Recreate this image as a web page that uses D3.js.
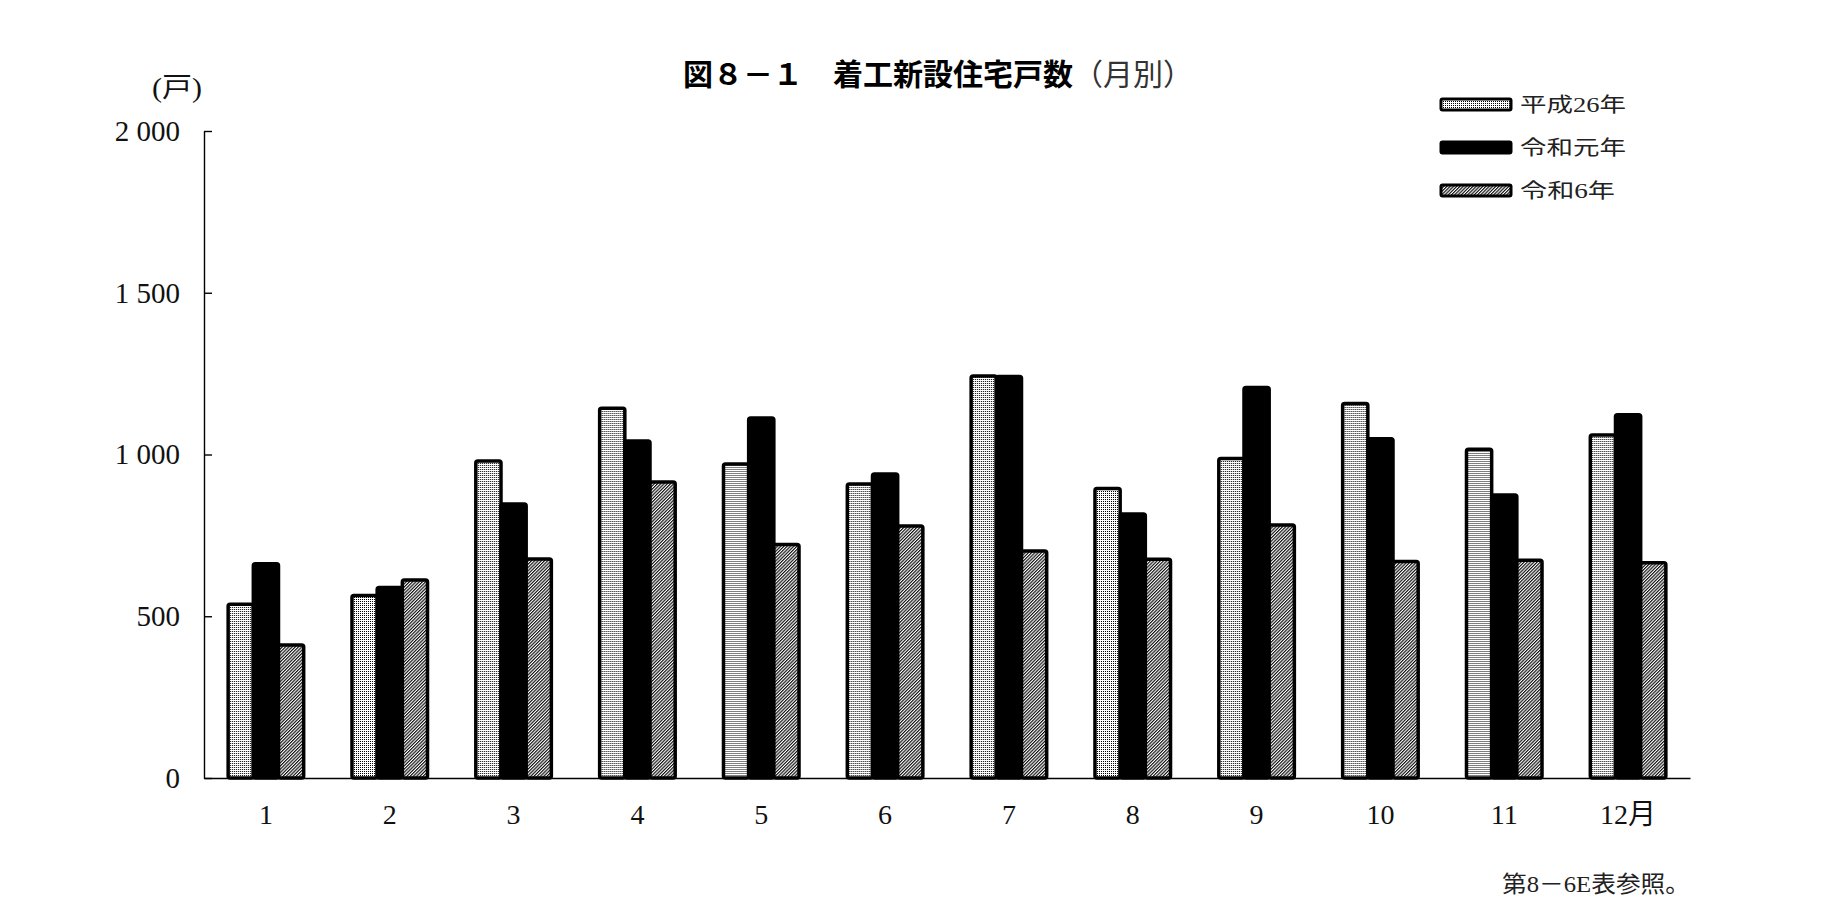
<!DOCTYPE html>
<html>
<head>
<meta charset="utf-8">
<script src="https://cdn.jsdelivr.net/npm/d3@7"></script>
<style>
  body { margin: 0; background: #fff; }
  .serif { font-family: "Liberation Serif", "DejaVu Serif", "Noto Sans CJK JP", serif; }
  .gothic { font-family: "Noto Sans CJK JP", "Noto Sans", sans-serif; }
</style>
</head>
<body>
<div id="chart"></div>
<script>
// chart values
const months = ["1", "2", "3", "4", "5", "6", "7", "8", "9", "10", "11", "12月"];
const seriesNames = ["平成26年", "令和元年", "令和6年"];
const heisei26 = [537, 564, 980, 1143, 971, 909, 1243, 895, 988, 1158, 1016, 1060];
const reiwa1 = [662, 589, 847, 1042, 1113, 940, 1241, 816, 1207, 1049, 875, 1123];
const reiwa6 = [411, 612, 677, 915, 722, 779, 702, 676, 782, 669, 673, 665];
const yTicks = [0, 500, 1000, 1500, 2000];

const size = { width: 1841, height: 922 };
const margin = { top: 131, right: 151, bottom: 144, left: 204 };
const width = size.width - margin.left - margin.right;
const height = size.height - margin.top - margin.bottom;

const svg = d3.select("#chart")
    .append("svg")
    .attr("width", size.width)
    .attr("height", size.height);

// fills: stipple, solid, hatch
const defs = svg.append("defs");
const dots = defs.append("pattern")
    .attr("id", "dots")
    .attr("patternUnits", "userSpaceOnUse")
    .attr("width", 2).attr("height", 2);
dots.append("rect").attr("width", 2).attr("height", 2).attr("fill", "#fff");
dots.append("rect").attr("width", 1).attr("height", 1).attr("fill", "#000");

const hatch = defs.append("pattern")
    .attr("id", "hatch")
    .attr("patternUnits", "userSpaceOnUse")
    .attr("width", 2.3).attr("height", 10)
    .attr("patternTransform", "rotate(45)");
hatch.append("rect").attr("width", 2.3).attr("height", 10).attr("fill", "#fff");
hatch.append("line")
    .attr("x1", 0.6).attr("x2", 0.6)
    .attr("y1", 0).attr("y2", 10)
    .attr("stroke", "#000")
    .attr("stroke-width", 1.1);

const fills = ["url(#dots)", "#000", "url(#hatch)"];

const g = svg.append("g")
    .attr("transform", `translate(${margin.left}, ${margin.top})`);

const x0 = d3.scaleBand()
    .domain(months)
    .range([0, width])
    .paddingInner(0.39)
    .paddingOuter(0.195);

const x1 = d3.scaleBand()
    .domain(seriesNames)
    .range([0, x0.bandwidth()]);

const y = d3.scaleLinear()
    .domain([0, 2000])
    .range([height, 0]);

// y axis, ticks pointing inward
const yAxis = d3.axisLeft(y)
    .tickValues(yTicks)
    .tickSizeInner(-8)
    .tickSizeOuter(0)
    .tickPadding(24)
    .tickFormat(d => d >= 1000 ? d3.format(",")(d).replace(",", " ") : d);

g.append("g")
    .attr("class", "y-axis serif")
    .call(yAxis)
    .call(a => a.selectAll("path, line").attr("stroke", "#000").attr("stroke-width", 1.4))
    .call(a => a.selectAll("text")
        .attr("font-size", 29)
        .attr("fill", "#111")
        .attr("font-family", null));

// x axis: only the base line and month labels
const xAxis = d3.axisBottom(x0)
    .tickSize(0)
    .tickPadding(26);

g.append("g")
    .attr("class", "x-axis serif")
    .attr("transform", `translate(0, ${height})`)
    .call(xAxis)
    .call(a => a.select(".domain").attr("stroke", "#000").attr("stroke-width", 1.4))
    .call(a => a.selectAll("text")
        .attr("font-size", 28)
        .attr("fill", "#111")
        .attr("font-family", null));

// bars
const rows = months.map((m, i) => ({
    month: m,
    values: [heisei26[i], reiwa1[i], reiwa6[i]]
}));

const groups = g.selectAll(".month")
    .data(rows)
    .join("g")
    .attr("class", "month")
    .attr("transform", d => `translate(${x0(d.month)}, 0)`);

groups.selectAll("rect")
    .data(d => d.values.map((v, j) => ({ series: seriesNames[j], value: v, j })))
    .join("rect")
    .attr("x", d => x1(d.series))
    .attr("y", d => y(d.value))
    .attr("width", x1.bandwidth())
    .attr("height", d => y(0) - y(d.value))
    .attr("rx", 2)
    .attr("fill", d => fills[d.j])
    .attr("stroke", "#000")
    .attr("stroke-width", 3.5);

// legend
const legend = svg.selectAll(".legend")
    .data(seriesNames)
    .join("g")
    .attr("class", "legend")
    .attr("transform", (d, i) => `translate(1441, ${99 + i * 43})`);

legend.append("rect")
    .attr("width", 70)
    .attr("height", 11)
    .attr("rx", 1.5)
    .attr("fill", (d, i) => fills[i])
    .attr("stroke", "#000")
    .attr("stroke-width", 3);

legend.append("text")
    .attr("class", "serif")
    .attr("x", 79)
    .attr("y", 13)
    .attr("font-size", 20)
    .attr("fill", "#222")
    .attr("textLength", (d, i) => i === 2 ? 95 : 106)
    .attr("lengthAdjust", "spacingAndGlyphs")
    .text(d => d);

// title
const title = svg.append("text")
    .attr("class", "gothic")
    .attr("x", 683)
    .attr("y", 85)
    .attr("font-size", 30)
    .attr("fill", "#000");
title.append("tspan").attr("font-weight", "bold").text("図８－１　着工新設住宅戸数");
title.append("tspan").attr("font-weight", "normal").attr("fill", "#333").text("（月別）");

// unit label
svg.append("text")
    .attr("class", "serif")
    .attr("x", 152)
    .attr("y", 97)
    .attr("font-size", 27)
    .attr("fill", "#111")
    .attr("textLength", 50)
    .attr("lengthAdjust", "spacingAndGlyphs")
    .text("(戸)");

// source note
svg.append("text")
    .attr("class", "serif")
    .attr("x", 1502)
    .attr("y", 892)
    .attr("font-size", 23)
    .attr("fill", "#222")
    .attr("textLength", 188)
    .attr("lengthAdjust", "spacingAndGlyphs")
    .text("第8－6E表参照。");
</script>
</body>
</html>
